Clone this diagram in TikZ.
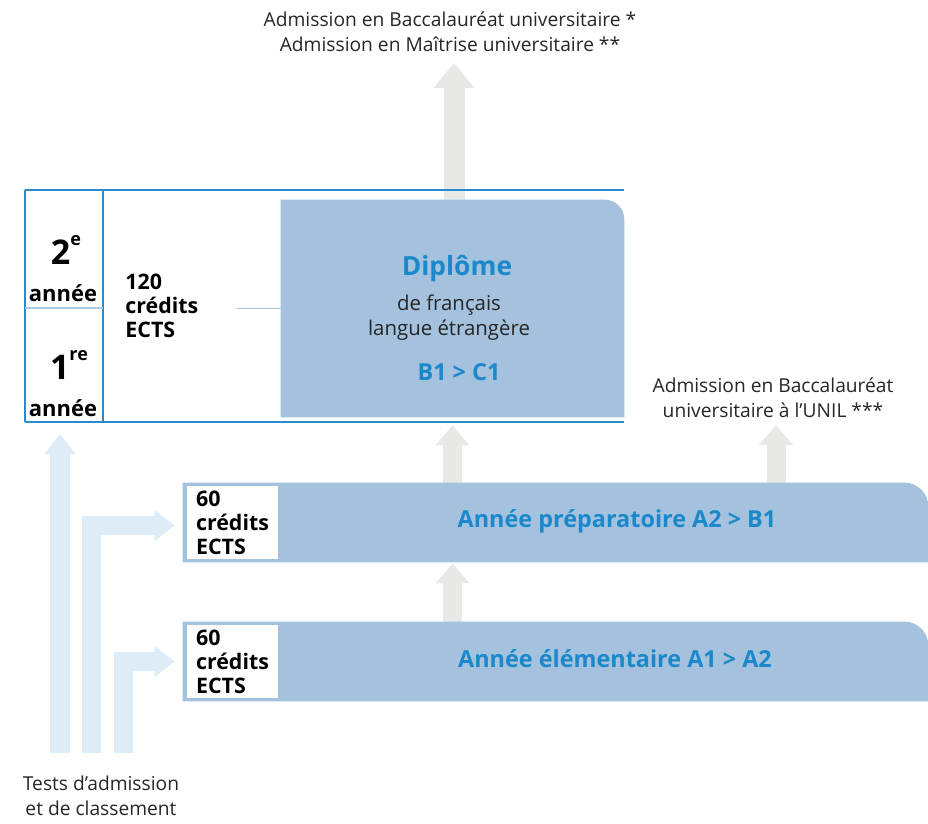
\documentclass[tikz,border=0pt]{standalone}
\usepackage{fontspec}
\setmainfont{Open Sans}
\usetikzlibrary{arrows.meta}
\definecolor{boxblue}{HTML}{A4C2DE}
\definecolor{textblue}{HTML}{1A88CA}
\definecolor{frameblue}{HTML}{2A8BCB}
\definecolor{paleline}{HTML}{A9C8E2}
\definecolor{greyarrow}{HTML}{E8E8E7}
\definecolor{palearrow}{HTML}{DDECF6}
\tikzset{
  note/.style={font=\fontsize{9.6}{12.5}\selectfont, align=center, text=black!85, inner sep=0pt},
  credits/.style={font=\bfseries\fontsize{10.7}{12}\selectfont, align=left, inner sep=0pt},
  credbox/.style={credits, fill=white, minimum width=45.5pt, minimum height=36.5pt},
  yearnum/.style={font=\bfseries\fontsize{17}{17}\selectfont, inner sep=0pt},
  yearword/.style={font=\bfseries\fontsize{11}{12}\selectfont, inner sep=0pt},
  level/.style={font=\bfseries\fontsize{11.7}{13}\selectfont, text=textblue, inner sep=0pt},
  bar/.style={inner sep=0pt, minimum height=39.5pt, minimum width=372.5pt},
  upgrey/.style={greyarrow, line width=9.5pt, -{Triangle[length=10pt,width=17pt,line width=0pt]}},
  uppale/.style={palearrow, line width=9.75pt, line join=miter, -{Triangle[length=10pt,width=15.5pt,line width=0pt]}},
  frame/.style={frameblue, line width=1pt},
  thin/.style={paleline, line width=0.6pt}
}
\newcommand{\yearsup}[1]{\raisebox{0.55em}{\fontsize{9}{9}\selectfont #1}}

\begin{document}
\begin{tikzpicture}[x=0.5pt,y=-0.5pt]
    \useasboundingbox (0,0) rectangle (928,824);
    \node[note] (univ) at (450,32) {Admission en Baccalauréat universitaire *\\Admission en Maîtrise universitaire **};
    \node[note] (unil) at (773,398) {Admission en Baccalauréat\\universitaire à l’UNIL ***};
    \node[note] (tests) at (101,796) {Tests d’admission\\et de classement};
    \coordinate (univtip) at (454,63);
    \coordinate (uniltip) at (776,425);
    \coordinate (tabtip) at (60,434);
    \coordinate (tabfoot) at (60,753);

    \node[inner sep=0pt, minimum width=171.5pt, minimum height=108.5pt] (dip) at (452.5,308.5) {};
    \node[bar] (prep) at (555.5,522.5) {};
    \node[bar] (elem) at (555.5,661.5) {};

    \draw[upgrey, line width=10.5pt, -{Triangle[length=12.5pt,width=20.5pt,line width=0pt]}] (dip.north -| univtip) -- (univtip);
    \draw[upgrey] (prep.north -| dip.south) -- ([yshift=-4pt]dip.south);
    \draw[upgrey] (prep.north -| uniltip) -- (uniltip);
    \draw[upgrey] (elem.north -| dip.south) -- ([yshift=-0.5pt]prep.south -| dip.south);

    \fill[boxblue] (dip.south west) -- (dip.north west) [rounded corners=10pt] -- (dip.north east) [sharp corners] -- (dip.south east) -- cycle;
    \fill[boxblue] (prep.south west) -- (prep.north west) [rounded corners=12pt] -- (prep.north east) [sharp corners] -- (prep.south east) -- cycle;
    \fill[boxblue] (elem.south west) -- (elem.north west) [rounded corners=12pt] -- (elem.north east) [sharp corners] -- (elem.south east) -- cycle;

    \draw[frame] (25,190) -- (624,190);
    \draw[frame] (25,422) -- (624,422);
    \draw[frame] (25,190) -- (25,422) (103,190) -- (103,422);
    \draw[thin] (25,308) -- (103,308);
    \draw[thin] (236,308.5) -- (dip.west);

    \node[yearnum] (second) at (66,250) {2\yearsup{e}};
    \node[yearword] (secondyr) at (63,293) {année};
    \node[yearnum] (first) at (69,365) {1\yearsup{re}};
    \node[yearword] (firstyr) at (63,408) {année};
    \node[credits, anchor=west] (totcred) at (125,306) {120\\crédits\\ECTS};

    \node[font=\bfseries\fontsize{13.2}{15}\selectfont, text=textblue, inner sep=0pt] (diptitle) at (457,269) {Diplôme};
    \node[note, font=\fontsize{10.2}{12.5}\selectfont] (dipsub) at (449,318) {de français\\langue étrangère};
    \node[level] (diplevel) at (459,372) {B1 > C1};

    \node[credbox] (prepcred) at (232.5,522.5) {60\\crédits\\ECTS};
    \node[level] (preptitle) at (617,521) {Année préparatoire A2 > B1};
    \node[credbox] (elemcred) at (232.5,661.5) {60\\crédits\\ECTS};
    \node[level] (elemtitle) at (615,659) {Année élémentaire A1 > A2};

    \draw[uppale] (tabfoot) -- (tabtip);
    \draw[uppale] (tabfoot -| 91.5,0) |- ([xshift=-4pt,yshift=-1.5pt]prep.west);
    \draw[uppale] (tabfoot -| 123.5,0) |- ([xshift=-4pt]elem.west);
\end{tikzpicture}
\end{document}
